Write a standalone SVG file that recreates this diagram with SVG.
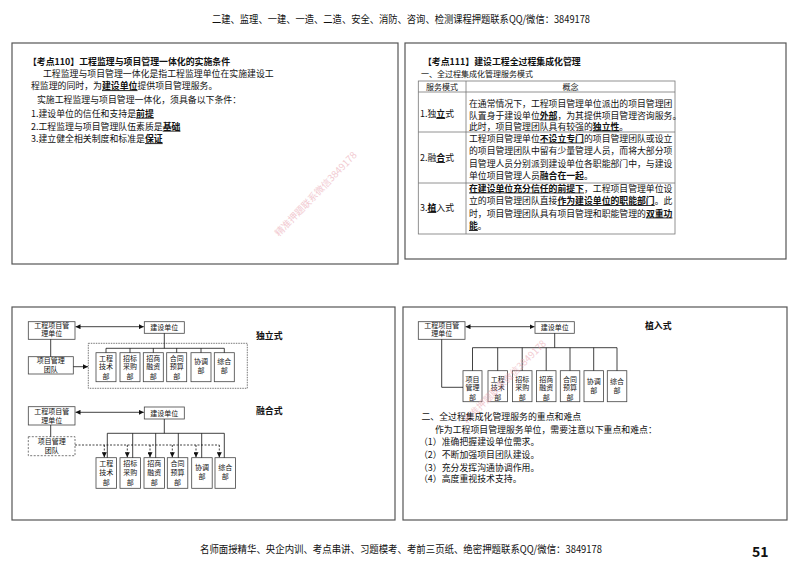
<svg xmlns="http://www.w3.org/2000/svg" width="800" height="566" viewBox="0 0 800 566">
<defs>
<style>
.t{font-family:"Noto Sans CJK SC","Liberation Sans",sans-serif;fill:#111}
.b{font-weight:bold}
.u{text-decoration:underline}
.s9{font-size:8.9px}
.s8{font-size:8px}
.s7{font-size:7px}
.m{text-anchor:middle}
.panel{fill:#fff;stroke:#555;stroke-width:1.2}
.box{fill:#fff;stroke:#444;stroke-width:0.8}
.ln{stroke:#111;stroke-width:0.8;fill:none}
.dl{stroke:#111;stroke-width:0.8;fill:none;stroke-dasharray:2,1.5}
.tb{stroke:#777;stroke-width:0.8;fill:none}
.wm{font-family:"Noto Sans CJK SC",sans-serif;font-size:9.5px;fill:#e8a0ac;opacity:0.55}
</style>
<marker id="ah" viewBox="0 0 6 6" refX="6" refY="3" markerWidth="5" markerHeight="5" markerUnits="userSpaceOnUse" orient="auto-start-reverse">
<path d="M0,0 L6,3 L0,6 z" fill="#111"/>
</marker>
</defs>
<rect width="800" height="566" fill="#fff"/>

<!-- header / footer -->
<text class="t" x="212" y="23" font-size="10.5" textLength="378" lengthAdjust="spacingAndGlyphs">二建、监理、一建、一造、二造、安全、消防、咨询、检测课程押题联系QQ/微信：3849178</text>
<text class="t" x="200" y="553" font-size="10.5" textLength="402" lengthAdjust="spacingAndGlyphs">名师面授精华、央企内训、考点串讲、习题模考、考前三页纸、绝密押题联系QQ/微信：3849178</text>
<text class="t b" x="752" y="557" font-size="14">51</text>

<!-- panels -->
<rect class="panel" x="12" y="43" width="386" height="221"/>
<rect class="panel" x="405" y="43" width="381" height="216"/>
<rect class="panel" x="12" y="307" width="383" height="213"/>
<rect class="panel" x="403" y="307" width="384" height="213"/>

<!-- top-left text -->
<g id="kd110">
<text class="t b s9" x="28" y="64.7">【考点110】工程监理与项目管理一体化的实施条件</text>
<text class="t s9" x="43" y="76.7">工程监理与项目管理一体化是指工程监理单位在实施建设工</text>
<text class="t s9" x="31" y="89.2">程监理的同时，为<tspan class="b u">建设单位</tspan>提供项目管理服务。</text>
<text class="t s9" x="37" y="103.2">实施工程监理与项目管理一体化，须具备以下条件：</text>
<text class="t s9" x="31" y="116.7">1.建设单位的信任和支持是<tspan class="b u">前提</tspan></text>
<text class="t s9" x="31" y="129.7">2.工程监理与项目管理队伍素质是<tspan class="b u">基础</tspan></text>
<text class="t s9" x="31" y="142.2">3.建立健全相关制度和标准是<tspan class="b u">保证</tspan></text>
</g>
<text class="wm" transform="translate(279,237) rotate(-46)">精准押题联系微信3849178</text>

<!-- top-right -->
<g id="kd111">
<text class="t b s9" x="423" y="65">【考点111】建设工程全过程集成化管理</text>
<text class="t s8" x="421" y="76.5">一、全过程集成化管理服务模式</text>
</g>
<g id="table">
<rect class="tb" x="418.3" y="81" width="256.7" height="153"/>
<line class="tb" x1="466" y1="81" x2="466" y2="234"/>
<line class="tb" x1="418.3" y1="92" x2="675" y2="92"/>
<line class="tb" x1="418.3" y1="132" x2="675" y2="132"/>
<line class="tb" x1="418.3" y1="183" x2="675" y2="183"/>
<text class="t s8 m" x="442" y="89.8">服务模式</text>
<text class="t s8 m" x="570.5" y="89.8">概念</text>
<text class="t s9" x="420" y="117">1.独<tspan class="b u">立</tspan>式</text>
<text class="t s9" x="420" y="161">2.融<tspan class="b u">合</tspan>式</text>
<text class="t s9" x="420" y="211">3.<tspan class="b u">植</tspan>入式</text>
<g class="t" font-size="8.85">
<text x="469" y="106.5">在通常情况下，工程项目管理单位派出的项目管理团</text>
<text x="469" y="118.5">队置身于建设单位<tspan class="b u">外部</tspan>，为其提供项目管理咨询服务。</text>
<text x="469" y="129.5">此时，项目管理团队具有较强的<tspan class="b u">独立性</tspan>。</text>
<text x="469" y="141.5">工程项目管理单位<tspan class="b u">不设立专门</tspan>的项目管理团队或设立</text>
<text x="469" y="154">的项目管理团队中留有少量管理人员，而将大部分项</text>
<text x="469" y="166.5">目管理人员分别派到建设单位各职能部门中，与建设</text>
<text x="469" y="179">单位项目管理人员<tspan class="b">融合在一起</tspan>。</text>
<text x="469" y="191.5"><tspan class="b u">在建设单位充分信任的前提下</tspan>，工程项目管理单位设</text>
<text x="469" y="204">立的项目管理团队直接<tspan class="b u">作为建设单位的职能部门</tspan>。此</text>
<text x="469" y="216.5">时，项目管理团队具有项目管理和职能管理的<tspan class="b u">双重功</tspan></text>
<text x="469" y="229"><tspan class="b u">能</tspan>。</text>
</g>
</g>

<!-- ========== 独立式 ========== -->
<text class="t b s9" x="256" y="338.5">独立式</text>
<g id="a-gcxm">
<rect class="box" x="28.3" y="321.7" width="46.7" height="17.6"/>
<text class="t s7 m" x="51.7" y="327.8">工程项目管</text>
<text class="t s7 m" x="51.7" y="336.2">理单位</text>
</g>
<g id="a-jsdw">
<rect class="box" x="144.3" y="321.7" width="40" height="11.6"/>
<text class="t s7 m" x="164.3" y="330">建设单位</text>
</g>
<g id="a-xmtd">
<rect class="box" x="28.3" y="356.7" width="45" height="17.3"/>
<text class="t s7 m" x="50.8" y="363.3">项目管理</text>
<text class="t s7 m" x="50.8" y="371.8">团队</text>
</g>
<g id="a-frame">
<rect x="88.3" y="343.3" width="159" height="45" fill="none" stroke="#555" stroke-width="0.8" stroke-dasharray="1.5,1"/>
</g>
<g id="a-d1"><rect class="box" x="96" y="352.7" width="20" height="29"/>
<text class="t s7 m" x="106" y="360.8">工程</text><text class="t s7 m" x="106" y="369.2">技术</text><text class="t s7 m" x="106" y="378.5">部</text></g>
<g id="a-d2"><rect class="box" x="120" y="352.7" width="20" height="29"/>
<text class="t s7 m" x="130" y="360.8">招标</text><text class="t s7 m" x="130" y="369.2">采购</text><text class="t s7 m" x="130" y="378.5">部</text></g>
<g id="a-d3"><rect class="box" x="143.3" y="352.7" width="20" height="29"/>
<text class="t s7 m" x="153.3" y="360.8">招商</text><text class="t s7 m" x="153.3" y="369.2">融资</text><text class="t s7 m" x="153.3" y="378.5">部</text></g>
<g id="a-d4"><rect class="box" x="166.7" y="352.7" width="20" height="29"/>
<text class="t s7 m" x="176.7" y="360.8">合同</text><text class="t s7 m" x="176.7" y="369.2">预算</text><text class="t s7 m" x="176.7" y="378.5">部</text></g>
<g id="a-d5"><rect class="box" x="191" y="352.7" width="20" height="29"/>
<text class="t s7 m" x="201" y="364.2">协调</text><text class="t s7 m" x="201" y="373.2">部</text></g>
<g id="a-d6"><rect class="box" x="214.3" y="352.7" width="20" height="29"/>
<text class="t s7 m" x="224.3" y="364.2">综合</text><text class="t s7 m" x="224.3" y="373.2">部</text></g>

<!-- ========== 融合式 ========== -->
<text class="t b s9" x="256" y="413.5">融合式</text>
<g id="b-gcxm">
<rect class="box" x="28.3" y="406.7" width="46.7" height="18.3"/>
<text class="t s7 m" x="51.7" y="414.3">工程项目管</text>
<text class="t s7 m" x="51.7" y="422.7">理单位</text>
</g>
<g id="b-jsdw">
<rect class="box" x="144.3" y="407" width="40" height="12"/>
<text class="t s7 m" x="164.3" y="415.6">建设单位</text>
</g>
<g id="b-xmtd">
<rect x="28.3" y="436.7" width="46.7" height="19" fill="#fff" stroke="#555" stroke-width="0.8" stroke-dasharray="2,1.5"/>
<text class="t s7 m" x="51.7" y="444.3">项目管理</text>
<text class="t s7 m" x="51.7" y="452.6">团队</text>
</g>
<g id="b-d1"><rect class="box" x="96" y="457.7" width="20.5" height="30.6"/>
<text class="t s7 m" x="106.2" y="466">工程</text><text class="t s7 m" x="106.2" y="475">技术</text><text class="t s7 m" x="106.2" y="485">部</text></g>
<g id="b-d2"><rect class="box" x="120" y="457.7" width="20.5" height="30.6"/>
<text class="t s7 m" x="130.2" y="466">招标</text><text class="t s7 m" x="130.2" y="475">采购</text><text class="t s7 m" x="130.2" y="485">部</text></g>
<g id="b-d3"><rect class="box" x="144" y="457.7" width="20.5" height="30.6"/>
<text class="t s7 m" x="154.2" y="466">招商</text><text class="t s7 m" x="154.2" y="475">融资</text><text class="t s7 m" x="154.2" y="485">部</text></g>
<g id="b-d4"><rect class="box" x="167.3" y="457.7" width="20.5" height="30.6"/>
<text class="t s7 m" x="177.5" y="466">合同</text><text class="t s7 m" x="177.5" y="475">预算</text><text class="t s7 m" x="177.5" y="485">部</text></g>
<g id="b-d5"><rect class="box" x="191.7" y="457.7" width="20.5" height="30.6"/>
<text class="t s7 m" x="201.9" y="470.3">协调</text><text class="t s7 m" x="201.9" y="479.3">部</text></g>
<g id="b-d6"><rect class="box" x="215" y="457.7" width="20.5" height="30.6"/>
<text class="t s7 m" x="225.2" y="470.3">综合</text><text class="t s7 m" x="225.2" y="479.3">部</text></g>

<!-- ========== 植入式 ========== -->
<text class="t b s9" x="645" y="329">植入式</text>
<g id="c-gcxm">
<rect class="box" x="418.3" y="321.7" width="46.7" height="17.6"/>
<text class="t s7 m" x="441.7" y="327.8">工程项目管</text>
<text class="t s7 m" x="441.7" y="336.2">理单位</text>
</g>
<g id="c-jsdw">
<rect class="box" x="535" y="321.7" width="39.3" height="11.6"/>
<text class="t s7 m" x="554.7" y="330">建设单位</text>
</g>
<g id="c-d0"><rect class="box" x="463" y="370.7" width="19" height="31"/>
<text class="t s7 m" x="472.5" y="382">项目</text><text class="t s7 m" x="472.5" y="390">管理</text><text class="t s7 m" x="472.5" y="399.5">部</text></g>
<g id="c-d1"><rect class="box" x="488" y="370.7" width="19.5" height="31"/>
<text class="t s7 m" x="497.7" y="382">工程</text><text class="t s7 m" x="497.7" y="390">技术</text><text class="t s7 m" x="497.7" y="399.5">部</text></g>
<g id="c-d2"><rect class="box" x="512.5" y="370.7" width="19.5" height="31"/>
<text class="t s7 m" x="522.2" y="382">招标</text><text class="t s7 m" x="522.2" y="390">采购</text><text class="t s7 m" x="522.2" y="399.5">部</text></g>
<g id="c-d3"><rect class="box" x="536.5" y="370.7" width="19.5" height="31"/>
<text class="t s7 m" x="546.2" y="382">招商</text><text class="t s7 m" x="546.2" y="390">融资</text><text class="t s7 m" x="546.2" y="399.5">部</text></g>
<g id="c-d4"><rect class="box" x="560.3" y="370.7" width="19.5" height="31"/>
<text class="t s7 m" x="570" y="382">合同</text><text class="t s7 m" x="570" y="390">预算</text><text class="t s7 m" x="570" y="399.5">部</text></g>
<g id="c-d5"><rect class="box" x="584" y="370.7" width="19.5" height="31"/>
<text class="t s7 m" x="593.7" y="384.2">协调</text><text class="t s7 m" x="593.7" y="393.2">部</text></g>
<g id="c-d6"><rect class="box" x="607.3" y="370.7" width="19.5" height="31"/>
<text class="t s7 m" x="617" y="384.2">综合</text><text class="t s7 m" x="617" y="393.2">部</text></g>

<!-- connectors -->
<g id="connectors">
<line class="ln" x1="75.5" y1="326.7" x2="143.8" y2="326.7" marker-start="url(#ah)" marker-end="url(#ah)"/>
<line class="ln" x1="50.7" y1="339.3" x2="50.7" y2="356.7"/>
<line class="ln" x1="73.3" y1="366.7" x2="88" y2="366.7" marker-end="url(#ah)"/>
<path class="ln" d="M164.3,333.3 V348.3 M106,348.3 H224.3 M106,348.3 V352.7 M130,348.3 V352.7 M153.3,348.3 V352.7 M176.7,348.3 V352.7 M201,348.3 V352.7 M224.3,348.3 V352.7"/>

<line class="ln" x1="75.5" y1="412.3" x2="143.8" y2="412.3" marker-start="url(#ah)" marker-end="url(#ah)"/>
<line class="ln" x1="50.7" y1="425" x2="50.7" y2="436.7"/>
<path class="ln" d="M164.3,419 V433.3 M107.3,433.3 H224.3 M107.3,433.3 V457.7 M132.7,433.3 V457.7 M155.7,433.3 V457.7 M178.3,433.3 V457.7 M201.7,433.3 V457.7 M224.3,433.3 V457.7"/>
<path class="dl" d="M75,445 H219.3"/>
<line class="dl" x1="104.3" y1="445" x2="104.3" y2="457.3" marker-end="url(#ah)"/>
<line class="dl" x1="127.3" y1="445" x2="127.3" y2="457.3" marker-end="url(#ah)"/>
<line class="dl" x1="150" y1="445" x2="150" y2="457.3" marker-end="url(#ah)"/>
<line class="dl" x1="172.3" y1="445" x2="172.3" y2="457.3" marker-end="url(#ah)"/>
<line class="dl" x1="196" y1="445" x2="196" y2="457.3" marker-end="url(#ah)"/>
<line class="dl" x1="219.3" y1="445" x2="219.3" y2="457.3" marker-end="url(#ah)"/>

<line class="ln" x1="465.5" y1="326.7" x2="534.5" y2="326.7" marker-start="url(#ah)" marker-end="url(#ah)"/>
<path class="ln" d="M554.7,333.3 V347.7 M472.5,347.7 H617 M472.5,347.7 V370.7 M497.7,347.7 V370.7 M522.2,347.7 V370.7 M546.2,347.7 V370.7 M570,347.7 V370.7 M593.7,347.7 V370.7 M617,347.7 V370.7"/>
<path class="ln" d="M441.7,339.3 V387.3 H463"/>
</g>

<text class="wm" transform="translate(467,424) rotate(-45)">精准押题联系微信3849178</text>

<!-- bottom-right text -->
<g id="zdnd">
<text class="t s9" x="421.5" y="419.5">二、全过程集成化管理服务的重点和难点</text>
<text class="t s9" x="435" y="433">作为工程项目管理服务单位，需要注意以下重点和难点：</text>
<text class="t s9" x="419" y="445">（1）准确把握建设单位需求。</text>
<text class="t s9" x="419" y="458">（2）不断加强项目团队建设。</text>
<text class="t s9" x="419" y="470.7">（3）充分发挥沟通协调作用。</text>
<text class="t s9" x="419" y="482.3">（4）高度重视技术支持。</text>
</g>
</svg>
